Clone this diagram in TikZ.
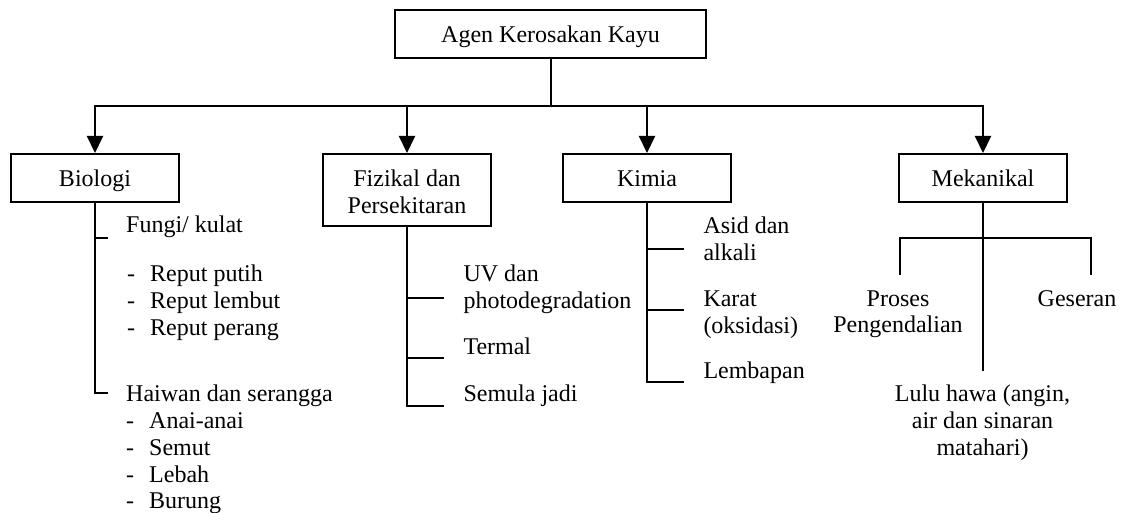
\documentclass[tikz,border=0pt]{standalone}
\usepackage{fontspec}
\setmainfont{Liberation Serif}
\usetikzlibrary{arrows.meta}
\begin{document}
\begin{tikzpicture}[x=1pt,y=-1pt,
  every node/.style={font=\fontsize{24}{26.8}\selectfont, inner sep=0pt},
  box/.style={draw, line width=2pt, minimum width=168pt, minimum height=48pt, text height=17pt, text depth=0pt},
  txt/.style={anchor=base west},
  ctxt/.style={anchor=base},
  conn/.style={line width=2pt, line cap=rect},
  arr/.style={line width=2pt, -{Triangle[width=16pt,length=17pt]}}]
\useasboundingbox (0,0) rectangle (1125,513);

% boxes
\node[box, minimum width=311pt, minimum height=48pt, text height=16.4pt] (top) at (550.5,34) {Agen Kerosakan Kayu};
\node[box] (bio) at (95,178) {Biologi};
\node[box, minimum height=72pt, text height=0pt, text depth=6.6pt] (fiz) at (407,190) {\begin{tabular}[t]{@{}c@{}}Fizikal dan\\Persekitaran\end{tabular}};
\node[box] (kim) at (647,178) {Kimia};
\node[box] (mek) at (983,178) {Mekanikal};

% top distribution
\coordinate (barL) at (95,106);
\coordinate (barM) at (551,106);
\coordinate (barR) at (983,106);
\draw[conn] (barM |- top.south) -- (barM);
\draw[conn] (barL) -- (barR);
\draw[arr] (barL) -- (bio.north);
\draw[arr] (fiz.north |- barL) -- (fiz.north);
\draw[arr] (kim.north |- barL) -- (kim.north);
\draw[arr] (barR) -- (mek.north);

% Biologi branch
\coordinate (bioT) at (107,238);
\coordinate (bioE) at (107,393);
\draw[conn] (bio.south) |- (bioE);
\draw[conn] (bio.south |- bioT) -- (bioT);
\node[txt] (fungi) at (126,233) {Fungi/ kulat};
\node[txt] (reput) at (127,281.7) {\begin{tabular}[t]{@{}l@{\hspace{15pt}}l@{}}-&Reput putih\\-&Reput lembut\\-&Reput perang\end{tabular}};
\node[txt] (haiwan) at (126,401.7) {\begin{tabular}[t]{@{}l@{\hspace{15pt}}l@{}}\multicolumn{2}{@{}l@{}}{Haiwan dan serangga}\\-&Anai-anai\\-&Semut\\-&Lebah\\-&Burung\end{tabular}};

% Fizikal branch
\coordinate (fizT1) at (443,298);
\coordinate (fizT2) at (443,358);
\coordinate (fizE) at (443,406);
\draw[conn] (fiz.south) |- (fizE);
\draw[conn] (fiz.south |- fizT1) -- (fizT1);
\draw[conn] (fiz.south |- fizT2) -- (fizT2);
\node[txt] (uv) at (463.3,281.7) {\begin{tabular}[t]{@{}l@{}}UV dan\\photodegradation\end{tabular}};
\node[txt] (termal) at (463.3,354) {Termal};
\node[txt] (semula) at (463.3,401.7) {Semula jadi};

% Kimia branch
\coordinate (kimT1) at (683,249);
\coordinate (kimT2) at (683,310);
\coordinate (kimE) at (683,382);
\draw[conn] (kim.south) |- (kimE);
\draw[conn] (kim.south |- kimT1) -- (kimT1);
\draw[conn] (kim.south |- kimT2) -- (kimT2);
\node[txt] (asid) at (703.3,233.3) {\begin{tabular}[t]{@{}l@{}}Asid dan\\alkali\end{tabular}};
\node[txt] (karat) at (703.3,306.7) {\begin{tabular}[t]{@{}l@{}}Karat\\(oksidasi)\end{tabular}};
\node[txt] (lembap) at (703.3,378.3) {Lembapan};

% Mekanikal branch
\coordinate (mekE) at (983,370);
\coordinate (mekBar) at (983,238);
\coordinate (mekL) at (900,274);
\coordinate (mekR) at (1091,274);
\draw[conn] (mek.south) -- (mekE);
\draw[conn] (mekL) -- (mekL |- mekBar) -- (mekR |- mekBar) -- (mekR);
\node[ctxt] (proses) at (898,306) {\begin{tabular}[t]{@{}c@{}}Proses\\Pengendalian\end{tabular}};
\node[ctxt] (geser) at (1077,306) {Geseran};
\node[ctxt] (lulu) at (982.5,401.7) {\begin{tabular}[t]{@{}c@{}}Lulu hawa (angin,\\air dan sinaran\\matahari)\end{tabular}};
\end{tikzpicture}
\end{document}
